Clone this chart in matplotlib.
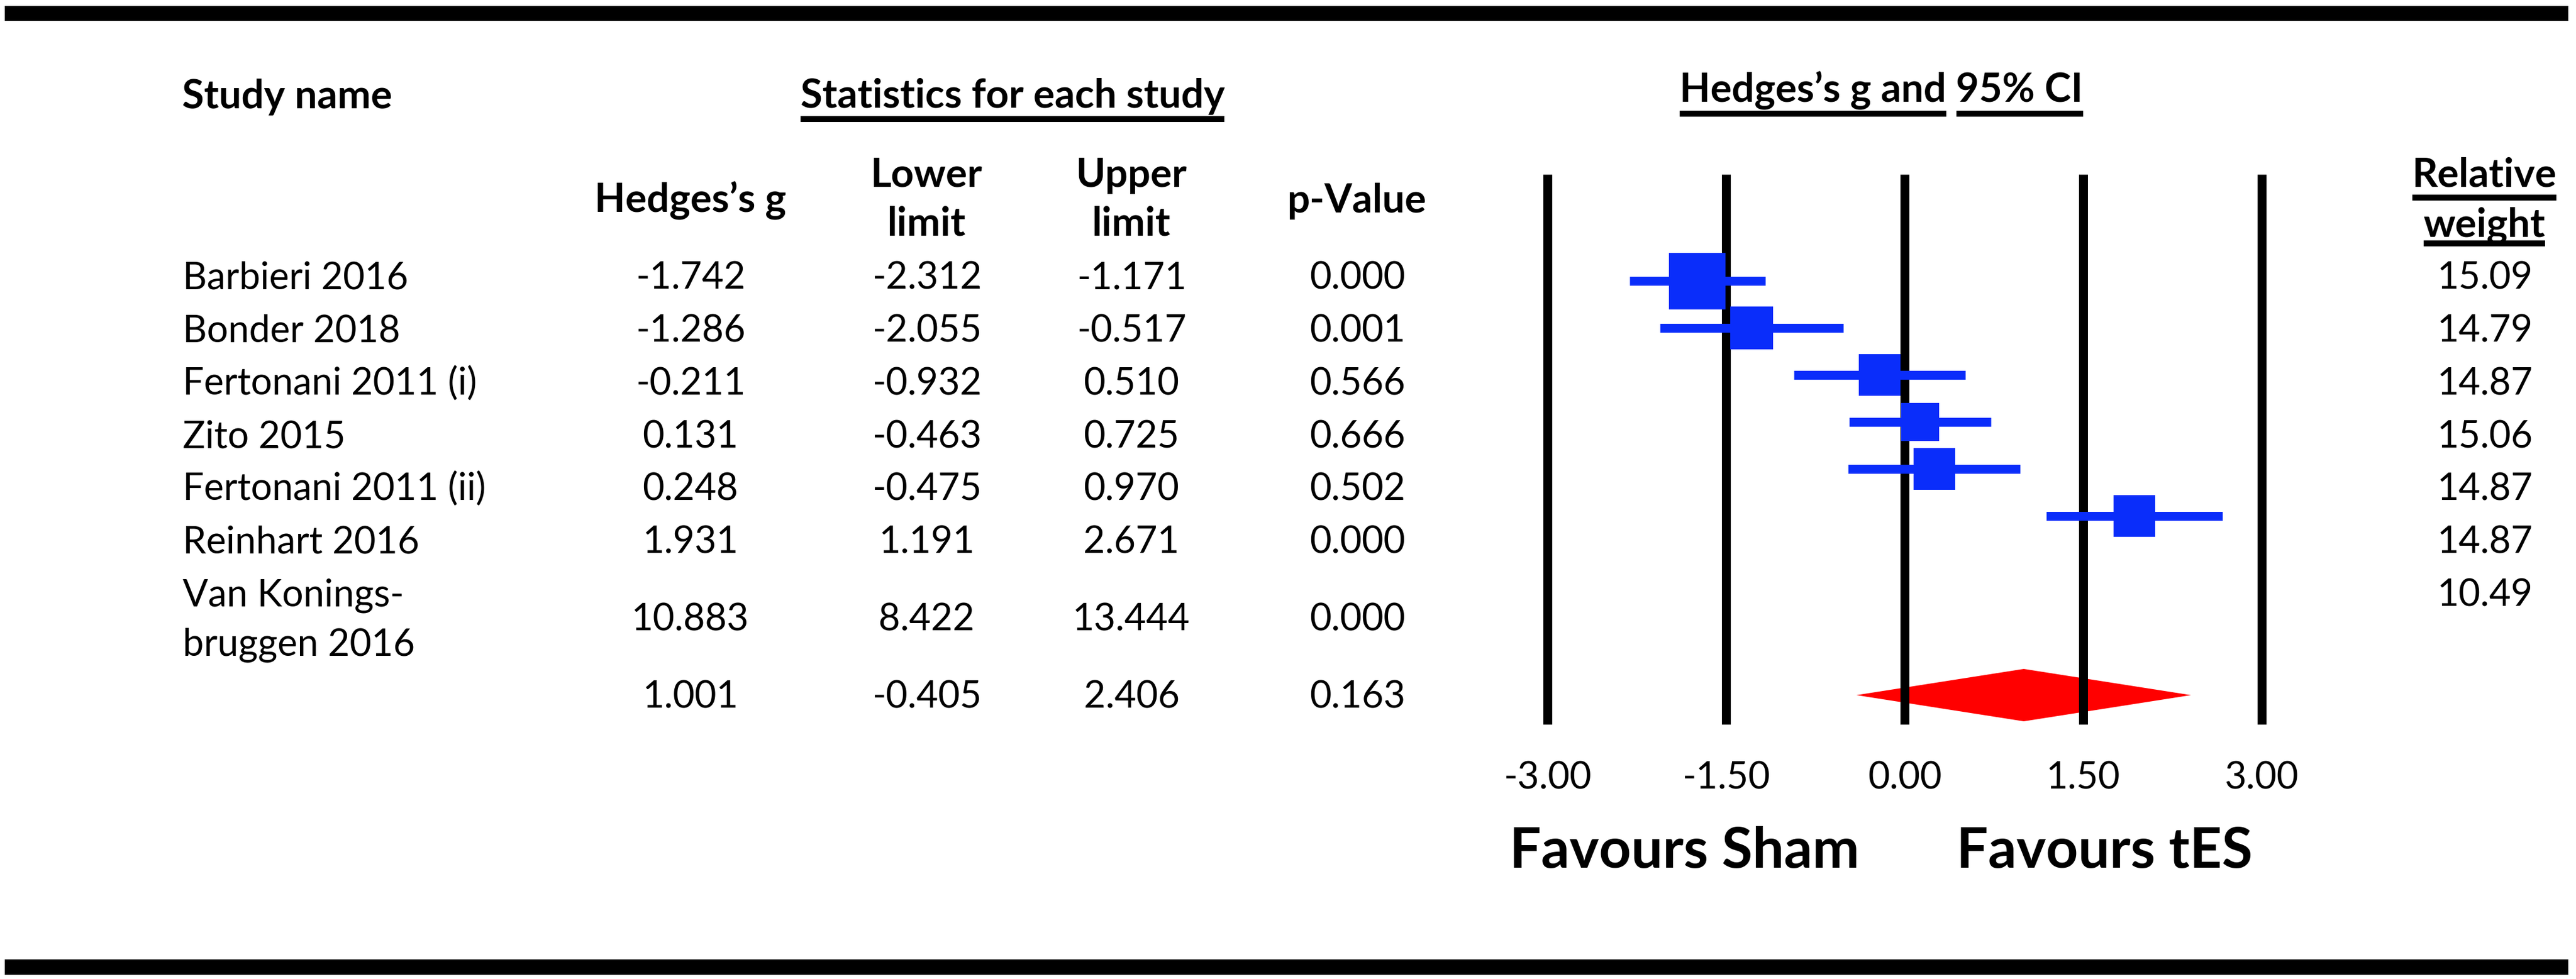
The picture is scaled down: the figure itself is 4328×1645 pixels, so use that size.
import numpy as np
import matplotlib
matplotlib.use("Agg")
import matplotlib.pyplot as plt
from matplotlib.patches import Rectangle
from matplotlib import transforms

# ---------------- data ----------------
studies = ["Barbieri 2016", "Bonder 2018", "Fertonani 2011 (i)", "Zito 2015",
           "Fertonani 2011 (ii)", "Reinhart 2016", "Van Konings-\nbruggen 2016"]
hedges_g = [-1.742, -1.286, -0.211, 0.131, 0.248, 1.931, 10.883]
lower_limit = [-2.312, -2.055, -0.932, -0.463, -0.475, 1.191, 8.422]
upper_limit = [-1.171, -0.517, 0.510, 0.725, 0.970, 2.671, 13.444]
p_values = [0.000, 0.001, 0.566, 0.666, 0.502, 0.000, 0.000]
relative_weight = [15.09, 14.79, 14.87, 15.06, 14.87, 14.87, 10.49]
summary_g = 1.001
summary_lower = -0.405
summary_upper = 2.406
summary_p = 0.163
x_ticks = [-3.0, -1.5, 0.0, 1.5, 3.0]
favours_left = "Favours Sham"
favours_right = "Favours tES"

# ---------------- style / layout ----------------
W, H, DPI = 4328, 1645, 100
BLUE = "#0a2dfa"
RED = "#ff0000"
FONT = ["Lato", "DejaVu Sans"]
plt.rcParams["font.family"] = FONT


def px2pt(px):
    return px * 72.0 / DPI


REG = px2pt(63)
BOLD = px2pt(67)
BIG = px2pt(94)

SQUARE_PX = [95, 72, 70, 64, 70, 70, 70]

fig = plt.figure(figsize=(W / DPI, H / DPI), dpi=DPI)
fig.patch.set_facecolor("white")
bg = fig.add_axes([0, 0, 1, 1])
bg.set_xlim(0, W)
bg.set_ylim(H, 0)
bg.axis("off")


def T(x, y, s, size=REG, weight="normal", ha="center", va="baseline"):
    return bg.text(x, y, s, fontsize=size, fontweight=weight, ha=ha, va=va,
                   color="black")


# black bars at top and bottom
bg.add_patch(Rectangle((8, 10), 4307, 25, color="black", lw=0))
bg.add_patch(Rectangle((8, 1612), 4307, 26, color="black", lw=0))

renderer = fig.canvas.get_renderer()


def extent(t):
    bb = t.get_window_extent(renderer=renderer)
    return bb.x0, bb.x1


def uline(x0, x1, y, thick=10):
    bg.add_patch(Rectangle((x0, y - thick / 2), x1 - x0, thick, color="black", lw=0))


def text_width(s, size, weight):
    t = bg.text(0, 0, s, fontsize=size, fontweight=weight)
    x0, x1 = extent(t)
    t.remove()
    return x1 - x0


# ---------------- headers ----------------
T(306, 182, "Study name", BOLD, "bold", ha="left")
t = T(1701, 181, "Statistics for each study", BOLD, "bold")
x0, x1 = extent(t)
uline(x0, x1, 200)

t = T(3161, 172, "Hedges\u2019s g and 95% CI", BOLD, "bold")
x0, x1 = extent(t)
w1 = text_width("Hedges\u2019s g and", BOLD, "bold")
w2 = text_width("95% CI", BOLD, "bold")
uline(x0, x0 + w1, 191)
uline(x1 - w2, x1, 191)

T(1160, 357, "Hedges\u2019s g", BOLD, "bold")
T(1557, 314, "Lower", BOLD, "bold")
T(1557, 395, "limit", BOLD, "bold")
T(1901, 314, "Upper", BOLD, "bold")
T(1901, 395, "limit", BOLD, "bold")
T(2280, 357, "p-Value", BOLD, "bold")
t = T(4174, 314, "Relative", BOLD, "bold")
x0, x1 = extent(t)
uline(x0, x1, 332)
t = T(4174, 398, "weight", BOLD, "bold")
x0, x1 = extent(t)
uline(x0, x1, 409)

# ---------------- table rows ----------------
COL_NAME, COL_G, COL_LO, COL_HI, COL_P, COL_W = 307, 1160, 1557, 1901, 2281, 4175
ROW_START, ROW_STEP, LINE_STEP = 486, 88.7, 83

y = ROW_START
for i, name in enumerate(studies):
    lines = name.split("\n")
    n = len(lines)
    for k, ln in enumerate(lines):
        T(COL_NAME, y + k * LINE_STEP, ln, ha="left")
    yc = y + (n - 1) * LINE_STEP / 2.0
    T(COL_G, yc, f"{hedges_g[i]:.3f}")
    T(COL_LO, yc, f"{lower_limit[i]:.3f}")
    T(COL_HI, yc, f"{upper_limit[i]:.3f}")
    T(COL_P, yc, f"{p_values[i]:.3f}")
    T(COL_W, y, f"{relative_weight[i]:.2f}")
    y = y + (n - 1) * LINE_STEP + ROW_STEP
y_sum = y
T(COL_G, y_sum, f"{summary_g:.3f}")
T(COL_LO, y_sum, f"{summary_lower:.3f}")
T(COL_HI, y_sum, f"{summary_upper:.3f}")
T(COL_P, y_sum, f"{summary_p:.3f}")

# ---------------- forest plot ----------------
XL_PX, XR_PX = 2600, 3800          # pixel positions of x = -3 and x = 3
Y_TOP_PX, Y_BOT_PX = 293, 1217     # vertical extent of reference lines
F_ROW0, F_STEP = 472, 79           # forest row spacing in pixels
SUMMARY_PX = 1168


def prow(px):
    return (px - F_ROW0) / F_STEP


ax = fig.add_axes([XL_PX / W, 1 - Y_BOT_PX / H, (XR_PX - XL_PX) / W,
                   (Y_BOT_PX - Y_TOP_PX) / H])
ax.set_xlim(x_ticks[0], x_ticks[-1])
ax.set_ylim(prow(Y_BOT_PX), prow(Y_TOP_PX))
ax.axis("off")
ax.patch.set_alpha(0)

ax.vlines(x_ticks, prow(Y_BOT_PX), prow(Y_TOP_PX), colors="black",
          lw=px2pt(15), clip_on=False, zorder=2)

rows = np.arange(len(studies))
ax.hlines(rows, lower_limit, upper_limit, colors=BLUE, lw=px2pt(15), zorder=3)
ax.scatter(hedges_g, rows, marker="s", s=[px2pt(s) ** 2 for s in SQUARE_PX],
           color=BLUE, linewidths=0, zorder=4)

ys = prow(SUMMARY_PX)
hh = 44 / F_STEP
ax.fill([summary_lower, summary_g, summary_upper, summary_g],
        [ys, ys - hh, ys, ys + hh], color=RED, lw=0, zorder=1)

# tick labels
tr = transforms.blended_transform_factory(ax.transData, bg.transData)
for tk in x_ticks:
    bg.text(tk, 1325, f"{tk:.2f}", transform=tr, fontsize=REG, ha="center",
            va="baseline")

T(2830, 1458, favours_left, BIG, "bold")
T(3536, 1458, favours_right, BIG, "bold")

fig.savefig("out.png", dpi=DPI, facecolor="white")
